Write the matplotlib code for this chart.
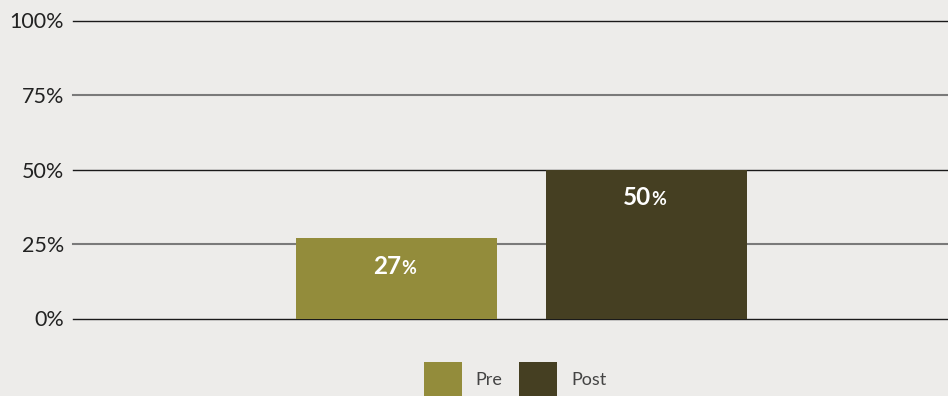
import matplotlib.pyplot as plt
from matplotlib.patches import Patch

# Share of respondents before and after
labels = ["Pre", "Post"]
values = [27, 50]
colors = ["#938C3B", "#453F22"]
yticks = [0, 25, 50, 75, 100]

BG = "#EDECEA"

plt.rcParams["font.family"] = ["Lato", "DejaVu Sans"]

fig = plt.figure(figsize=(9.48, 3.96), dpi=100, facecolor=BG)
ax = fig.add_axes([73 / 948, 1 - 318.5 / 396, 1 - 73 / 948, 298 / 396])
ax.set_facecolor(BG)

# horizontal guides: dark at 0/50/100, grey at the quarters
for t in yticks:
    if t % 50 == 0:
        ax.axhline(t, color="#1a1a1a", lw=1.0, zorder=1, clip_on=False)
    else:
        ax.axhline(t, color="#7a7a7a", lw=1.5, zorder=1, clip_on=False)

x = range(len(values))
bars = ax.bar(x, values, width=0.804, color=colors, zorder=2)

for b, v in zip(bars, values):
    cx = b.get_x() + b.get_width() / 2
    ax.annotate(str(v), xy=(cx, v), xytext=(5, -28), textcoords="offset pixels",
                ha="right", va="center", color="white", fontsize=17.5,
                fontweight="bold", zorder=3)
    ax.annotate("%", xy=(cx, v), xytext=(5, -30), textcoords="offset pixels",
                ha="left", va="center", color="white", fontsize=13,
                fontweight="bold", zorder=3)

ax.set_xlim(-1.294, 2.206)
ax.set_ylim(0, 100)
ax.set_yticks(yticks)
ax.set_yticklabels([f"{t}%" for t in yticks])
ax.tick_params(axis="y", length=0, pad=6.5, labelsize=15.5, labelcolor="#222222")
ax.set_xticks([])
for s in ax.spines.values():
    s.set_visible(False)

handles = [Patch(facecolor=c, edgecolor="none") for c in colors]
fig.legend(handles, labels, loc="center", bbox_to_anchor=(515 / 948, 1 - 380 / 396),
           ncol=2, frameon=False, fontsize=13, labelcolor="#444444",
           handlelength=2.1, handleheight=2.7, handletextpad=0.78,
           columnspacing=0.9, borderpad=0)

fig.savefig("out.png", dpi=100, facecolor=BG)
